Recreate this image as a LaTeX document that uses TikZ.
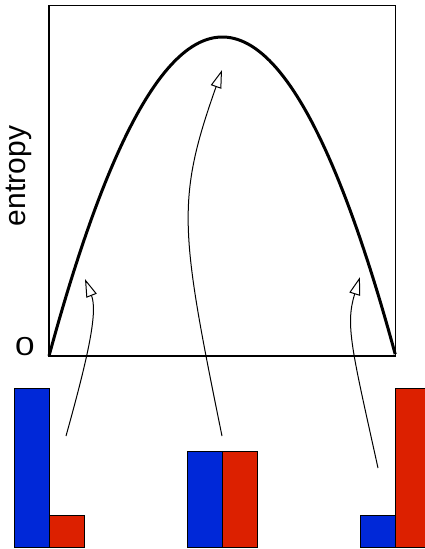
\documentclass[tikz,border=0pt]{standalone}
\usepackage{fontspec}
\setmainfont{Liberation Sans}
\usetikzlibrary{arrows.meta}
\definecolor{barblue}{RGB}{0,40,216}
\definecolor{barred}{RGB}{220,32,0}
\tikzset{
  frame/.style={line width=1.2pt},
  entcurve/.style={line width=3pt},
  pointer/.style={line width=1pt,-{Triangle[open,length=18pt,width=11pt,line width=1pt]}},
  bar/.style={draw=black,line width=1.2pt}
}

\begin{document}
\begin{tikzpicture}[x=1pt,y=-1pt]
  \useasboundingbox (0,0) rectangle (425,549);
  % plot frame and the entropy curve (zero at both ends, maximum in the middle)
  \draw[frame] (49,5.7) rectangle (395.7,356);
  \draw[entcurve] plot[domain=0:1, samples=100] ({49+346.7*\x},{356-1276*\x*(1-\x)});
  \node[font=\fontsize{30}{30}\selectfont, rotate=90, anchor=south] (ylab) at (35,176) {entropy};
  \node[font=\fontsize{26}{26}\selectfont, xscale=1.35] (zero) at (25,347) {0};
  % three distributions: blue height / red height
  \foreach \xl/\hb/\hr in {14.3/159.4/32, 187.7/96/96, 360.3/32/159.4}{
    \fill[barblue] (\xl,547.7) rectangle ++(35,-\hb);
    \fill[barred]  (\xl+35,547.7) rectangle ++(35,-\hr);
    \draw[bar] (\xl,547.7) rectangle ++(35,-\hb);
    \draw[bar] (\xl+35,547.7) rectangle ++(35,-\hr);
  }
  % arrows from each distribution to its spot on the curve
  \coordinate (lowfrom) at (66,436);
  \coordinate (lowto) at (85,279);
  \coordinate (midfrom) at (222,436);
  \coordinate (midto) at (222,70);
  \coordinate (highfrom) at (378,468);
  \coordinate (highto) at (360,277);
  \draw[pointer] (lowfrom) .. controls (88,357) and (98,312) .. (lowto);
  \draw[pointer] (midfrom) .. controls (180,230) and (176,200) .. (midto);
  \draw[pointer] (highfrom) .. controls (352,350) and (345,325) .. (highto);
\end{tikzpicture}
\end{document}
